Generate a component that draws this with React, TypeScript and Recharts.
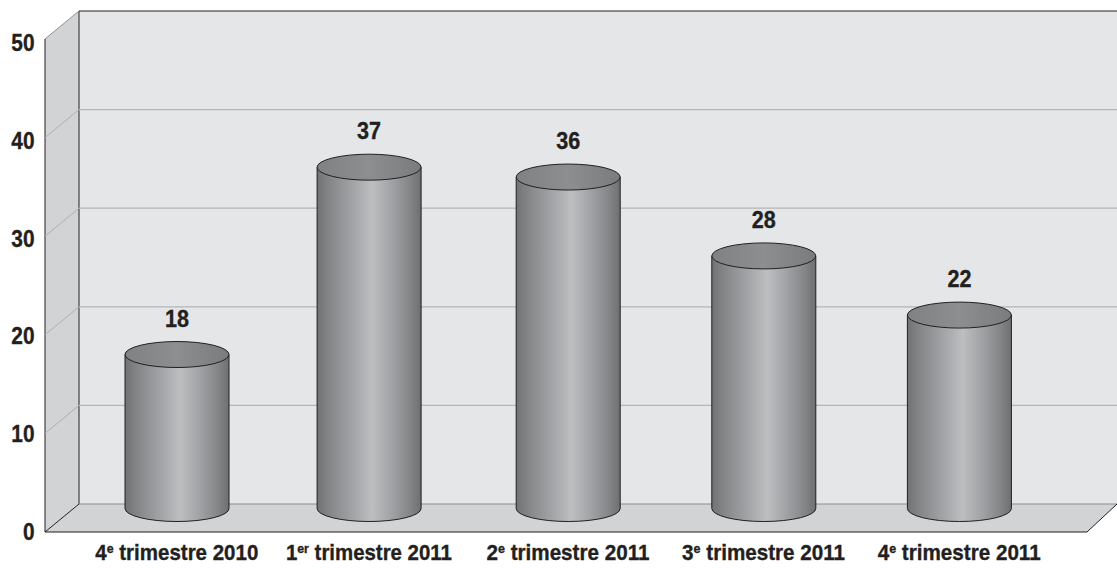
import React from "react";
import { ComposedChart, Bar, XAxis, YAxis, ReferenceArea, ReferenceLine, LabelList } from "recharts";

const categories = ["4e trimestre 2010", "1er trimestre 2011", "2e trimestre 2011", "3e trimestre 2011", "4e trimestre 2011"];
const values = [18, 37, 36, 28, 22];
const yTicks = [0, 10, 20, 30, 40, 50];
const gridValues = [10, 20, 30, 40];
const chartData = categories.map((category, i) => ({ category, value: values[i] }));

// layout of the pseudo-3D box and cylinders
const W = 1117, H = 568;
const M = { top: 39, right: 60, bottom: 0, left: 0 };
const DX = 34, DY = 28; // depth of the box
const RY = 13;          // cylinder ellipse radius
const BASE_LIFT = 23.5; // cylinder base sits on the floor, above the front edge
const slotNudge = [0, -3.5, 0, 0, 0]; // the source's category slots are slightly uneven
const FONT = "'Liberation Sans', Arial, sans-serif";
const INK = "#231f20";
const TEXT_WEIGHT = 0.35;

function Box(props: any) {
  const { x, y, width, height } = props;
  const b = y + height;
  const right = W;
  return (
    <g>
      <rect x={x} y={y - DY} width={right - x} height={height} fill="#e5e6e8" />
      <polygon points={`${x - DX},${y} ${x},${y - DY} ${x},${b - DY} ${x - DX},${b}`} fill="#d1d3d5" />
      <polygon points={`${x - DX},${b} ${x},${b - DY} ${right},${b - DY} ${right - 30},${b}`} fill="#d1d3d5" />
      <line x1={x} y1={y - DY} x2={right} y2={y - DY} stroke="#231f20" strokeWidth={1.2} />
      <line x1={x} y1={y - DY} x2={x} y2={b - DY} stroke="#231f20" strokeWidth={1} />
      <line x1={x - DX} y1={y} x2={x} y2={y - DY} stroke="#8f9193" strokeWidth={1} />
      <line x1={x - DX} y1={y} x2={x - DX} y2={b} stroke="#231f20" strokeWidth={1} />
      <line x1={x} y1={b - DY} x2={right} y2={b - DY} stroke="#8b8d8f" strokeWidth={1.2} />
      <line x1={x - DX} y1={b} x2={x} y2={b - DY} stroke="#231f20" strokeWidth={1} />
      <line x1={x - DX} y1={b} x2={right - 30} y2={b} stroke="#231f20" strokeWidth={1.2} />
      <line x1={right - 30} y1={b} x2={right} y2={b - DY} stroke="#231f20" strokeWidth={1} />
    </g>
  );
}

function GridLine(props: any) {
  const { x1, y1 } = props;
  return (
    <g>
      <line x1={x1} y1={y1 - DY} x2={W} y2={y1 - DY} stroke="#b3b5b7" strokeWidth={1.3} />
      <line x1={x1 - DX} y1={y1} x2={x1} y2={y1 - DY} stroke="#aeb0b2" strokeWidth={1} />
    </g>
  );
}

function Cylinder(props: any) {
  const { x, y, width, height, index } = props;
  const cx0 = x + (slotNudge[index] || 0);
  const rx = width / 2;
  const base = y + height - BASE_LIFT;
  return (
    <g>
      <path
        d={`M${cx0},${y} L${cx0},${base} A${rx},${RY} 0 0 0 ${cx0 + width},${base} L${cx0 + width},${y} Z`}
        fill="url(#cylBody)"
        stroke={INK}
        strokeWidth={1}
      />
      <ellipse cx={cx0 + rx} cy={y} rx={rx} ry={RY} fill="url(#cylTop)" stroke={INK} strokeWidth={1} />
    </g>
  );
}

function ValueLabel(props: any) {
  const { x, y, width, value, index } = props;
  return (
    <text
      x={x + width / 2 + (slotNudge[index] || 0)}
      y={y - 28}
      textAnchor="middle"
      fontFamily={FONT}
      fontWeight="bold"
      fontSize={23}
      fill={INK}
      stroke={INK}
      strokeWidth={TEXT_WEIGHT}
      textLength={24}
      lengthAdjust="spacingAndGlyphs"
    >
      {value}
    </text>
  );
}

function YTick(props: any) {
  const { y, payload } = props;
  const label = String(payload.value);
  const shifted = y + (532 - y) * 0.0085;
  return (
    <text
      x={34.5}
      y={shifted + 8}
      textAnchor="end"
      fontFamily={FONT}
      fontWeight="bold"
      fontSize={24}
      fill={INK}
      stroke={INK}
      strokeWidth={TEXT_WEIGHT}
      textLength={label.length * 11.6}
      lengthAdjust="spacingAndGlyphs"
    >
      {label}
    </text>
  );
}

function XTick(props: any) {
  const { x, y, payload, index } = props;
  const m = /^(\d)(\w+) (.*)$/.exec(String(payload.value));
  if (!m) return null;
  return (
    <text
      x={x + (slotNudge[index] || 0)}
      y={y + 22}
      textAnchor="middle"
      fontFamily={FONT}
      fontWeight="bold"
      fontSize={21.5}
      fill={INK}
      stroke={INK}
      strokeWidth={TEXT_WEIGHT}
      textLength={index === 1 ? 166 : 163}
      lengthAdjust="spacingAndGlyphs"
    >
      {m[1]}
      <tspan fontSize={13} dy={-7}>{m[2]}</tspan>
      <tspan dy={7}>{" " + m[3]}</tspan>
    </text>
  );
}

export default function App() {
  return (
    <div style={{ position: "absolute", left: 0, top: 0, width: W, height: H, overflow: "hidden" }}>
      <ComposedChart width={W} height={H} data={chartData} margin={M} style={{ overflow: "hidden" }}>
        <defs>
          <linearGradient id="cylBody" x1="0" y1="0" x2="1" y2="0">
            <stop offset="0" stopColor="#717274" />
            <stop offset="0.12" stopColor="#858688" />
            <stop offset="0.35" stopColor="#a3a4a7" />
            <stop offset="0.53" stopColor="#bcbec0" />
            <stop offset="0.72" stopColor="#a1a2a5" />
            <stop offset="0.9" stopColor="#838486" />
            <stop offset="1" stopColor="#6e6f71" />
          </linearGradient>
          <linearGradient id="cylTop" x1="0" y1="0" x2="1" y2="0">
            <stop offset="0" stopColor="#808183" />
            <stop offset="0.5" stopColor="#8d8e90" />
            <stop offset="1" stopColor="#7a7b7d" />
          </linearGradient>
        </defs>
        <ReferenceArea y1={0} y2={50} shape={Box} ifOverflow="visible" zIndex={50} />
        {gridValues.map((v) => (
          <ReferenceLine key={v} y={v} shape={GridLine} ifOverflow="visible" zIndex={150} />
        ))}
        <XAxis dataKey="category" type="category" axisLine={false} tickLine={false} tick={XTick} interval={0} height={36} tickMargin={0} />
        <YAxis type="number" domain={[0, 50]} ticks={yTicks} axisLine={false} tickLine={false} tick={YTick} width={79} />
        <Bar dataKey="value" barSize={104} shape={Cylinder} isAnimationActive={false} zIndex={600}>
          <LabelList dataKey="value" content={ValueLabel} zIndex={700} />
        </Bar>
      </ComposedChart>
    </div>
  );
}
